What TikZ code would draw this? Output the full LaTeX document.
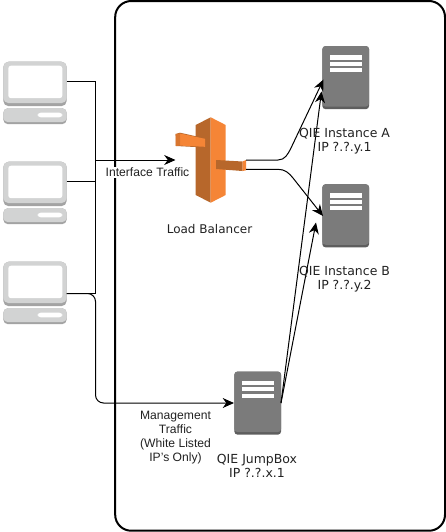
\documentclass[tikz,border=0pt]{standalone}
\usepackage{fontspec}
\setmainfont{Liberation Sans}
\newfontfamily\vfont{DejaVu Sans}
\usetikzlibrary{arrows.meta}
\definecolor{pclight}{HTML}{D2D3D3}
\definecolor{pcdark}{HTML}{A3A3A3}
\definecolor{srvmain}{HTML}{7B7B7B}
\definecolor{srvdark}{HTML}{5E5E5E}
\definecolor{lbdark}{HTML}{B7672B}
\definecolor{lbmid}{HTML}{D9762F}
\definecolor{lblight}{HTML}{F58536}
\definecolor{txt}{HTML}{222222}
\tikzset{
 computer/.pic={
  \fill[pcdark,rounded corners=4] (0,0) rectangle (63.4,44.5);
  \fill[pclight,rounded corners=4] (0,0) rectangle (63.4,41.5);
  \fill[white,rounded corners=2] (5,4) rectangle (59,36.5);
  \fill[pcdark,rounded corners=3.5] (0,46.5) rectangle (63.4,62.5);
  \fill[pclight,rounded corners=3.5] (0,46.5) rectangle (63.4,60.5);
  \fill[white,rounded corners=2.2] (34.4,51) rectangle (59,55.6);
 },
 server/.pic={
  \fill[srvdark,rounded corners=2.5] (0,0) rectangle (46.8,63.2);
  \fill[srvmain,rounded corners=2.5] (0,0) rectangle (46.8,60.6);
  \fill[white] (7.7,9) rectangle (39.5,13.6);
  \fill[white] (7.7,15.6) rectangle (39.5,19.6);
  \fill[white] (7.7,22) rectangle (39.5,26);
 },
 conn/.style={draw=black,line width=0.75pt},
 arr/.style={conn,-{Stealth[length=8.5pt,width=7.5pt]}},
 lab/.style={text=txt,font=\fontsize{9.1pt}{10.5pt}\selectfont,align=center,inner sep=0pt},
 vlab/.style={text=txt,font=\vfont\fontsize{9.35pt}{10.5pt}\selectfont,align=center,inner sep=0pt},
}
\begin{document}
\begin{tikzpicture}[x=0.75pt,y=-0.75pt]
\useasboundingbox (0,0) rectangle (446,532);
\fill[white] (0,0) rectangle (446,532);
\node[draw=black,line width=1.5pt,rounded corners=12pt,minimum width=247.35pt,minimum height=397.3pt,inner sep=0pt,anchor=north west,outer sep=0pt] (vpc) at (115.2,1) {};
% icons
\pic at (3.3,61.7) {computer};
\pic at (3.3,161.7) {computer};
\pic at (3.3,261.7) {computer};
\pic at (322.3,46) {server};
\pic at (322.3,184.2) {server};
\pic at (234.3,371.5) {server};
% load balancer
\fill[lbdark] (210.7,117.3) -- (195.7,125) -- (195.7,195) -- (210.7,202.7) -- cycle;
\fill[lblight] (210.7,117.3) -- (225.7,125) -- (225.7,195) -- (210.7,202.7) -- cycle;
\fill[lbdark] (175.7,134) -- (180,132.7) -- (205,138.3) -- (205,147.5) -- (176,146) -- cycle;
\fill[lblight] (180.2,133.5) -- (205,138.8) -- (205,146.8) -- (180.2,145.6) -- cycle;
\fill[lbmid] (175.7,134) -- (180.2,133.3) -- (180.2,145.6) -- (175.7,146) -- cycle;
\fill[lbdark] (216,160) -- (242.5,161.5) -- (242.5,171) -- (216,169) -- cycle;
\fill[lblight] (242.5,161.5) -- (246,160) -- (246,170.3) -- (242.5,171) -- cycle;
% anchors
\coordinate (pcA) at (66.7,81.5);
\coordinate (pcB) at (66.7,181.5);
\coordinate (pcC) at (66.7,293.5);
\coordinate (lbIn) at (175.5,160);
\coordinate (lbOutA) at (246,160);
\coordinate (lbOutB) at (246,169.3);
\coordinate (srvAa) at (323.5,79.5);
\coordinate (srvAb) at (321.5,91.5);
\coordinate (srvBa) at (323,216);
\coordinate (srvBb) at (316,222.5);
\coordinate (jbIn) at (234,403);
\coordinate (jbOut) at (281,403);
\coordinate (bus) at (95.5,160);
% connectors
\draw[conn] (pcA) -- (95.5,81.5) -- (bus);
\draw[conn] (pcB) -- (95.5,181.5) -- (bus);
\draw[conn] (pcC) -- (95.5,293.5) -- (bus);
\draw[arr] (bus) -- (lbIn);
\draw[arr,rounded corners=6pt] (pcC) -- (95.5,293.5) -- (95.5,403) -- (jbIn);
\draw[arr] (lbOutA) -- (278,160) .. controls (285,160) and (288,154) .. (291,148) -- (srvAa);
\draw[arr] (lbOutB) -- (278,169.3) .. controls (285,169.3) and (289,173) .. (293,178) -- (srvBa);
\draw[arr] (jbOut) -- (srvAb);
\draw[arr] (jbOut) -- (srvBb);
% labels
\node[lab,fill=white,inner sep=0.5pt] (ifl) at (147.5,172.5) {Interface Traffic};
\node[vlab,font=\vfont\fontsize{9pt}{10.5pt}\selectfont] (lbl) at (209.5,229.5) {Load Balancer};
\node[vlab] (al) at (344.5,141) {QIE Instance A\\IP ?.?.y.1};
\node[vlab] (bl) at (344.5,279) {QIE Instance B\\IP ?.?.y.2};
\node[vlab] (jl) at (257,465.7) {QIE JumpBox\\IP ?.?.x.1};
\node[lab] (ml) at (175.5,437.7) {Management\\Traffic\\(White Listed\\IP's Only)};
\end{tikzpicture}
\end{document}
